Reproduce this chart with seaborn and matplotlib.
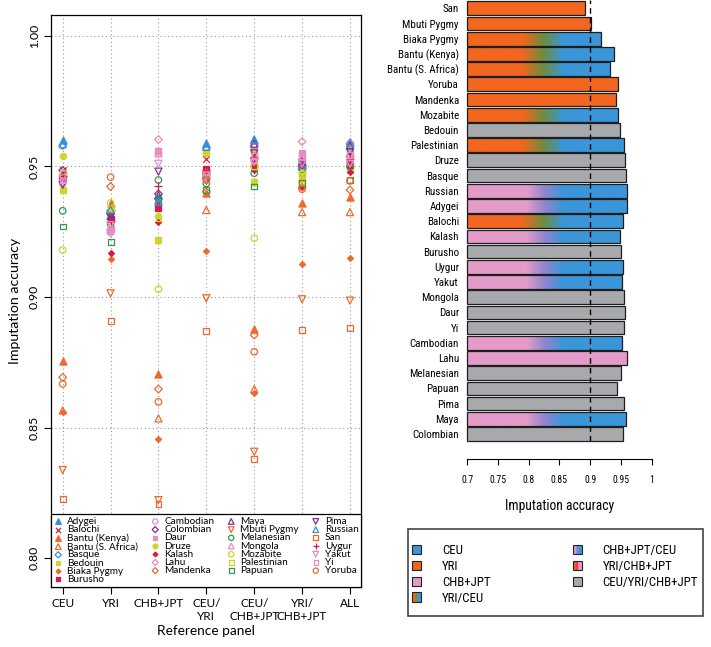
import numpy as np
import pandas as pd
import seaborn as sns
import matplotlib.pyplot as plt
from matplotlib import font_manager
from matplotlib.font_manager import FontProperties
from matplotlib.colors import LinearSegmentedColormap
from matplotlib.patches import Patch, Rectangle
from matplotlib.legend_handler import HandlerBase

# ---------------- left panel: accuracy by reference panel ----------------
panels = ['CEU', 'YRI', 'CHB+JPT', 'CEU/\nYRI', 'CEU/\nCHB+JPT', 'YRI/\nCHB+JPT', 'ALL']

pops = ['Adygei', 'Balochi', 'Bantu (Kenya)', 'Bantu (S. Africa)', 'Basque', 'Bedouin',
        'Biaka Pygmy', 'Burusho', 'Cambodian', 'Colombian', 'Daur', 'Druze', 'Kalash',
        'Lahu', 'Mandenka', 'Maya', 'Mbuti Pygmy', 'Melanesian', 'Mongola', 'Mozabite',
        'Palestinian', 'Papuan', 'Pima', 'Russian', 'San', 'Uygur', 'Yakut', 'Yi', 'Yoruba']

acc_ceu = [0.960, 0.9485, 0.8755, 0.8565, 0.958, 0.941, 0.856, 0.947, 0.9435, 0.9485,
           0.9455, 0.954, 0.9475, 0.944, 0.8692, 0.9465, 0.8337, 0.933, 0.9475, 0.918,
           0.9475, 0.927, 0.943, 0.9585, 0.8225, 0.9465, 0.9455, 0.9445, 0.8667]
acc_yri = [0.9345, 0.931, 0.9361, 0.9335, 0.933, 0.933, 0.9144, 0.930, 0.9255, 0.932,
           0.926, 0.9335, 0.9167, 0.9245, 0.9423, 0.931, 0.9014, 0.928, 0.927, 0.936,
           0.934, 0.9212, 0.9305, 0.9335, 0.8909, 0.929, 0.9275, 0.925, 0.9459]
acc_chb = [0.937, 0.936, 0.8705, 0.8535, 0.9375, 0.9218, 0.8457, 0.934, 0.955, 0.9395,
           0.956, 0.931, 0.9289, 0.9603, 0.8647, 0.939, 0.8222, 0.9448, 0.955, 0.903,
           0.9302, 0.938, 0.948, 0.9365, 0.8206, 0.9425, 0.951, 0.956, 0.8598]
acc_ceu_yri = [0.959, 0.9528, 0.9397, 0.9333, 0.957, 0.9485, 0.9177, 0.949, 0.9455, 0.9475,
               0.946, 0.955, 0.9465, 0.945, 0.9403, 0.948, 0.8995, 0.9435, 0.948, 0.9457,
               0.9555, 0.941, 0.9445, 0.9575, 0.8871, 0.9485, 0.9465, 0.945, 0.9448]
acc_ceu_chb = [0.9603, 0.951, 0.8876, 0.8647, 0.958, 0.944, 0.8633, 0.950, 0.9522, 0.953,
               0.956, 0.955, 0.9485, 0.958, 0.8854, 0.9587, 0.8407, 0.9474, 0.954, 0.9225,
               0.950, 0.9423, 0.955, 0.9603, 0.8378, 0.9538, 0.9517, 0.954, 0.879]
acc_yri_chb = [0.951, 0.949, 0.9361, 0.9325, 0.950, 0.945, 0.9125, 0.948, 0.952, 0.949,
               0.955, 0.948, 0.942, 0.9595, 0.942, 0.952, 0.8991, 0.949, 0.954, 0.944,
               0.947, 0.9438, 0.951, 0.9505, 0.8874, 0.9505, 0.951, 0.954, 0.9413]
acc_all = [0.9595, 0.9515, 0.9382, 0.9325, 0.9587, 0.9485, 0.9148, 0.9506, 0.9515, 0.9538,
           0.957, 0.957, 0.948, 0.959, 0.941, 0.958, 0.8986, 0.950, 0.955, 0.9445,
           0.9545, 0.9448, 0.9555, 0.959, 0.888, 0.953, 0.951, 0.9544, 0.9445]

# ---------------- right panel: best panel per population ----------------
bar_pops = ['San', 'Mbuti Pygmy', 'Biaka Pygmy', 'Bantu (Kenya)', 'Bantu (S. Africa)', 'Yoruba',
            'Mandenka', 'Mozabite', 'Bedouin', 'Palestinian', 'Druze', 'Basque', 'Russian',
            'Adygei', 'Balochi', 'Kalash', 'Burusho', 'Uygur', 'Yakut', 'Mongola', 'Daur', 'Yi',
            'Cambodian', 'Lahu', 'Melanesian', 'Papuan', 'Pima', 'Maya', 'Colombian']
bar_acc = [0.891, 0.901, 0.9175, 0.939, 0.932, 0.9457, 0.9425, 0.9457, 0.9485, 0.9555,
           0.957, 0.9587, 0.9603, 0.9603, 0.9528, 0.9485, 0.9506, 0.9538, 0.9517, 0.955,
           0.957, 0.9544, 0.9522, 0.9603, 0.950, 0.944, 0.9555, 0.9587, 0.9538]
bar_best = ['YRI', 'YRI', 'YRI/CEU', 'YRI/CEU', 'YRI/CEU', 'YRI', 'YRI', 'YRI/CEU',
            'CEU/YRI/CHB+JPT', 'YRI/CEU', 'CEU/YRI/CHB+JPT', 'CEU/YRI/CHB+JPT',
            'CHB+JPT/CEU', 'CHB+JPT/CEU', 'YRI/CEU', 'CHB+JPT/CEU', 'CEU/YRI/CHB+JPT',
            'CHB+JPT/CEU', 'CHB+JPT/CEU', 'CEU/YRI/CHB+JPT', 'CEU/YRI/CHB+JPT',
            'CEU/YRI/CHB+JPT', 'CHB+JPT/CEU', 'CHB+JPT', 'CEU/YRI/CHB+JPT',
            'CEU/YRI/CHB+JPT', 'CEU/YRI/CHB+JPT', 'CHB+JPT/CEU', 'CEU/YRI/CHB+JPT']
legend_order = ['CEU', 'YRI', 'CHB+JPT', 'YRI/CEU', 'CHB+JPT/CEU', 'YRI/CHB+JPT', 'CEU/YRI/CHB+JPT']

# ---------------- styles ----------------
EU, CSA, AF, ME = '#3a8fd6', '#d91a46', '#ec6a2c', '#d0d42c'
EA, AM, OC = '#e98cc4', '#7b3294', '#35984a'

pop_style = {
    'Adygei': ('^', EU, True, 26), 'Balochi': ('x', CSA, True, 22),
    'Bantu (Kenya)': ('^', AF, True, 26), 'Bantu (S. Africa)': ('^', AF, False, 26),
    'Basque': ('D', EU, False, 15), 'Bedouin': ('s', ME, True, 18),
    'Biaka Pygmy': ('D', AF, True, 9), 'Burusho': ('s', CSA, True, 18),
    'Cambodian': ('o', EA, False, 22), 'Colombian': ('D', AM, False, 15),
    'Daur': ('s', EA, True, 18), 'Druze': ('o', ME, True, 20),
    'Kalash': ('D', CSA, True, 9), 'Lahu': ('D', EA, False, 15),
    'Mandenka': ('D', AF, False, 15), 'Maya': ('^', AM, False, 26),
    'Mbuti Pygmy': ('v', AF, False, 26), 'Melanesian': ('o', OC, False, 22),
    'Mongola': ('^', EA, False, 26), 'Mozabite': ('o', ME, False, 22),
    'Palestinian': ('s', ME, False, 18), 'Papuan': ('s', OC, False, 18),
    'Pima': ('v', AM, False, 26), 'Russian': ('^', EU, False, 26),
    'San': ('s', AF, False, 18), 'Uygur': ('+', CSA, True, 34),
    'Yakut': ('v', EA, False, 26), 'Yi': ('s', EA, False, 14),
    'Yoruba': ('o', AF, False, 22),
}

CEU_C, YRI_C, CHB_C, GRAY_C = '#3a96d8', '#f2661f', '#e49bc9', '#a8a9ac'


def ramp(c1, mid, c2, a, b):
    return LinearSegmentedColormap.from_list('', [(0, c1), (a, c1), ((a + b) / 2, mid), (b, c2), (1, c2)])


bar_ramps = {'YRI/CEU': ramp(YRI_C, '#6f8c3d', CEU_C, 0.30, 0.52),
             'CHB+JPT/CEU': ramp(CHB_C, '#8e86cf', CEU_C, 0.32, 0.52)}
legend_ramps = {'YRI/CEU': ramp(YRI_C, '#6f8c3d', CEU_C, 0.3, 0.7),
                'CHB+JPT/CEU': ramp(CHB_C, '#8e86cf', CEU_C, 0.3, 0.7),
                'YRI/CHB+JPT': ramp(YRI_C, '#e8343a', CHB_C, 0.3, 0.7)}
solid = {'CEU': CEU_C, 'YRI': YRI_C, 'CHB+JPT': CHB_C, 'CEU/YRI/CHB+JPT': GRAY_C,
         'YRI/CEU': YRI_C, 'CHB+JPT/CEU': CHB_C, 'YRI/CHB+JPT': YRI_C}


class GradPatch(Patch):
    def __init__(self, cmap, **kw):
        super().__init__(**kw)
        self.cmap = cmap


class GradHandler(HandlerBase):
    def create_artists(self, legend, orig_handle, xdescent, ydescent, width, height, fontsize, trans):
        n = 16
        arts = []
        for i in range(n):
            arts.append(Rectangle((-xdescent + width * i / n, -ydescent), width / n * 1.05, height,
                                  facecolor=orig_handle.cmap((i + 0.5) / n), edgecolor='none',
                                  transform=trans))
        arts.append(Rectangle((-xdescent, -ydescent), width, height, facecolor='none',
                              edgecolor='#222222', lw=0.8, transform=trans))
        return arts


def pick_font(preferred, condensed):
    # look up an installed regular font file, optionally a condensed cut
    for weights in ((400, 'normal', 'regular'), (300, 500)):
        for name in preferred:
            for f in font_manager.fontManager.ttflist:
                if f.name != name or f.style != 'normal' or f.weight not in weights:
                    continue
                narrow_name = 'Narrow' in name or 'Condensed' in name
                if condensed and not narrow_name and f.stretch not in ('condensed', 'semi-condensed'):
                    continue
                if not condensed and f.stretch not in ('normal', 400):
                    continue
                return f.fname
    return None


def main():
    sns.set_theme(style='white', rc={'text.color': 'black', 'axes.labelcolor': 'black',
                                     'xtick.color': 'black', 'ytick.color': 'black'})
    main_path = pick_font(['Lato', 'Liberation Sans', 'Open Sans'], False)
    cond_path = pick_font(['Liberation Sans Narrow', 'Roboto Condensed', 'Open Sans Condensed',
                           'Noto Sans', 'DejaVu Sans', 'Open Sans', 'Roboto'], True)
    # shrink factor when no condensed cut is installed
    k = 1.0
    if cond_path is None:
        cond_path = main_path
        k = 0.86

    def fp_main(size):
        return FontProperties(fname=main_path, size=size) if main_path else FontProperties(size=size)

    def fp_cond(size):
        return FontProperties(fname=cond_path, size=size * k) if cond_path else FontProperties(size=size * 0.8)

    plt.rcParams['font.family'] = ['Lato', 'Liberation Sans', 'DejaVu Sans']

    fig = plt.figure(figsize=(7.11, 6.47), dpi=100)
    ax1 = fig.add_axes([0.0720, 0.0927, 0.4364, 0.8841])
    ax2 = fig.add_axes([0.6572, 0.3184, 0.2594, 0.6816])

    # left panel
    cols = [acc_ceu, acc_yri, acc_chb, acc_ceu_yri, acc_ceu_chb, acc_yri_chb, acc_all]
    long = pd.DataFrame({'pop': np.tile(pops, len(cols)),
                         'panel': np.repeat(np.arange(len(cols)), len(pops)),
                         'acc': np.concatenate(cols)})
    for pop in pops:
        m, c, filled, s = pop_style[pop]
        sub = long[long['pop'] == pop]
        kw = dict(data=sub, x='panel', y='acc', marker=m, s=s, linewidth=0.9, label=pop,
                  legend=False, ax=ax1, zorder=2)
        if m in ('x', '+'):
            sns.scatterplot(color=c, **kw)
        elif filled:
            sns.scatterplot(color=c, edgecolor=c, **kw)
        else:
            sns.scatterplot(color=c, facecolors='none', edgecolor=c, **kw)

    ax1.set_xlim(-0.24, 6.24)
    ax1.set_ylim(0.7889, 1.008)
    ax1.set_xticks(range(len(panels)), panels)
    ax1.set_yticks([0.80, 0.85, 0.90, 0.95, 1.00], ['0.80', '0.85', '0.90', '0.95', '1.00'])
    ax1.grid(True, ls=(0, (1, 2.5)), color='#9a9a9a', lw=0.8)
    ax1.set_axisbelow(True)
    ax1.tick_params(direction='out', length=5, width=0.8, color='black', left=True, bottom=True,
                    pad=3)
    for lbl in ax1.get_xticklabels():
        lbl.set_fontproperties(fp_main(8.5))
    for lbl in ax1.get_yticklabels():
        lbl.set_fontproperties(fp_main(8.8))
        lbl.set_rotation(90)
        lbl.set_va('center')
    for sp in ax1.spines.values():
        sp.set_color('black')
        sp.set_linewidth(0.9)
    ax1.set_xlabel('Reference panel', fontproperties=fp_main(9.8), labelpad=2)
    ax1.set_ylabel('Imputation accuracy', fontproperties=fp_main(10.2), labelpad=6)

    leg = ax1.legend(ncol=4, loc='lower left', bbox_to_anchor=(0, 0, 1, 0.1), mode='expand',
                     borderaxespad=0, prop=fp_main(7.2), labelspacing=-0.08,
                     handlelength=0.8, handletextpad=0.5, columnspacing=0.5, borderpad=0.3,
                     fancybox=False, edgecolor='black', framealpha=1, scatterpoints=1,
                     markerscale=0.8)
    leg.get_frame().set_linewidth(0.9)

    # right panel
    bar_df = pd.DataFrame({'pop': bar_pops, 'acc': bar_acc, 'best': bar_best})
    bar_palette = {p: solid[b] for p, b in zip(bar_pops, bar_best)}
    sns.barplot(data=bar_df, x='acc', y='pop', hue='pop', palette=bar_palette, dodge=False,
                legend=False, width=0.9, edgecolor='#1e1e1e', linewidth=0.9, saturation=1,
                orient='y', ax=ax2)
    grad_row = np.linspace(0, 1, 300)[None, :]
    for bar, acc, best in zip(ax2.patches, bar_acc, bar_best):
        bar.set_x(0.7)
        bar.set_width(acc - 0.7)
        bar.set_clip_on(False)
        if best in bar_ramps:
            y0, h = bar.get_y(), bar.get_height()
            im = ax2.imshow(grad_row, cmap=bar_ramps[best], extent=(0.7, 1.0, y0 + h, y0),
                            aspect='auto', interpolation='bilinear', zorder=0.9)
            im.set_clip_path(bar)
            bar.set_facecolor('none')
    ax2.axvline(0.9, color='black', ls=(0, (4, 3)), lw=1, zorder=3)
    ax2.set_xlim(0.7, 1.0)
    ax2.set_ylim(28.46, -0.546)
    for s in ['top', 'right', 'left']:
        ax2.spines[s].set_visible(False)
    ax2.spines['bottom'].set_position(('outward', 13))
    ax2.spines['bottom'].set_bounds(0.7, 1.0)
    ax2.spines['bottom'].set_color('black')
    ax2.spines['bottom'].set_linewidth(0.8)
    ax2.set_xticks([0.7, 0.75, 0.8, 0.85, 0.9, 0.95, 1.0],
                   ['0.7', '0.75', '0.8', '0.85', '0.9', '0.95', '1'])
    ax2.tick_params(axis='x', direction='out', length=4.6, width=0.8, color='black', bottom=True,
                    pad=7)
    ax2.tick_params(axis='y', length=0, pad=6)
    for lbl in ax2.get_xticklabels():
        lbl.set_fontproperties(fp_cond(7))
    for lbl in ax2.get_yticklabels():
        lbl.set_fontproperties(fp_cond(7.9))
    ax2.set_ylabel('')
    ax2.set_xlabel('Imputation accuracy', fontproperties=fp_cond(9.8), labelpad=10)

    # right legend: frame drawn as a box, entries placed inside it
    handles = []
    for name in legend_order:
        if name in legend_ramps:
            handles.append(GradPatch(legend_ramps[name]))
        else:
            handles.append(Patch(facecolor=solid[name], edgecolor='#222222', lw=0.8))
    W, H = 711, 647
    fig.patches.append(Rectangle((408 / W, 1 - 616 / H), (703 - 408) / W, (616 - 529) / H,
                                 transform=fig.transFigure, facecolor='white',
                                 edgecolor='#444444', lw=1.2, zorder=1))
    fs = 9.3 * k
    px = fs * 100 / 72
    fig.legend(handles, legend_order, handler_map={GradPatch: GradHandler()}, ncol=2,
               loc='upper left', bbox_to_anchor=(412 / W, 1 - 544 / H), borderaxespad=0,
               prop=fp_cond(9.3), handlelength=9 / px, handleheight=9 / px,
               handletextpad=21 / px, labelspacing=0.22, columnspacing=82 / px,
               borderpad=0, frameon=False)

    fig.savefig('out.png', dpi=100)


if __name__ == '__main__':
    main()
